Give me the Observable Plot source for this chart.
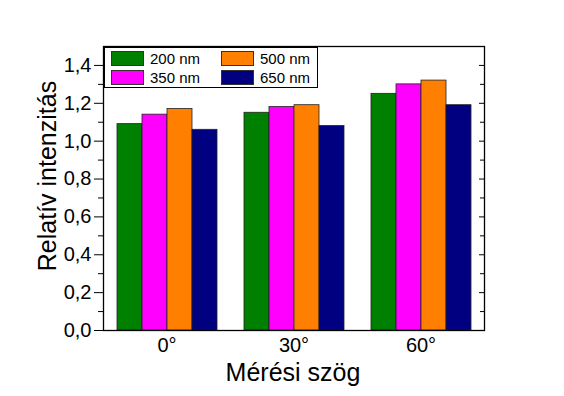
<!DOCTYPE html>
<html><head><meta charset="utf-8">
<script src="https://cdn.jsdelivr.net/npm/d3@7"></script>
<script src="https://cdn.jsdelivr.net/npm/@observablehq/plot@0.6"></script>
<style>
body{margin:0;background:#fff;}
#wrap{position:relative;width:564px;height:396px;font-family:"Liberation Sans",Arial,sans-serif;color:#000;}
#legend{position:absolute;left:104px;top:47px;width:214px;height:41px;border:1px solid #000;background:#fff;box-sizing:border-box;}
.item{position:absolute;display:flex;align-items:center;font-size:15px;line-height:15px;}
.sw{width:33px;height:15px;border:1px solid #333;box-sizing:border-box;margin-right:6px;}
.title{position:absolute;font-size:25px;line-height:25px;white-space:nowrap;}
#xt{left:293px;top:360px;transform:translateX(-50%);}
#yt{left:47px;top:176px;transform:translate(-50%,-50%) rotate(-90deg);}
</style></head>
<body><div id="wrap"></div>
<script>
const angles = ["0°", "30°", "60°"];
const wavelengths = ["200 nm", "350 nm", "500 nm", "650 nm"];
const v200 = [1.09, 1.15, 1.25];
const v350 = [1.14, 1.18, 1.30];
const v500 = [1.17, 1.19, 1.32];
const v650 = [1.06, 1.08, 1.19];
const colors = ["#008000", "#ff00ff", "#ff8000", "#000080"];
const majorTicks = [0, 0.2, 0.4, 0.6, 0.8, 1.0, 1.2, 1.4];
const minorTicks = [0.1, 0.3, 0.5, 0.7, 0.9, 1.1, 1.3];
const xTitle = "Mérési szög";
const yTitle = "Relatív intenzitás";

const series = [v200, v350, v500, v650];
const data = angles.flatMap((a, i) => wavelengths.map((w, j) => ({angle: a, wl: w, value: series[j][i]})));
const fmt = d => d.toFixed(1).replace(".", ",");

const chart = Plot.plot({
  width: 564, height: 396,
  marginLeft: 102, marginRight: 79, marginTop: 46, marginBottom: 66,
  style: {fontFamily: "'Liberation Sans', Arial, sans-serif", color: "#000", background: "#fff"},
  fx: {domain: angles, paddingInner: 0, paddingOuter: 0, label: null},
  x: {domain: wavelengths, paddingInner: 0, paddingOuter: 0.5, axis: null},
  y: {domain: [0, 1.5]},
  color: {domain: wavelengths, range: colors},
  marks: [
    Plot.barY(data, {fx: "angle", x: "wl", y: "value", fill: "wl", stroke: "#222", strokeWidth: 0.8}),
    Plot.axisY({ticks: majorTicks, tickFormat: fmt, tickSize: 9, tickPadding: 3, fontSize: 20, label: null}),
    Plot.axisY({ticks: minorTicks, tickSize: 5, text: null, label: null}),
    Plot.axisY({anchor: "right", ticks: majorTicks, tickSize: -6, text: null, label: null}),
    Plot.axisY({anchor: "right", ticks: minorTicks, tickSize: -5, text: null, label: null}),
    Plot.axisFx({anchor: "bottom", tickSize: 0, tickPadding: 7, fontSize: 20, label: null}),
    Plot.frame({facet: "super", stroke: "#000", strokeWidth: 1.3})
  ]
});
const wrap = document.getElementById("wrap");
wrap.appendChild(chart);

const xt = document.createElement("div");
xt.id = "xt"; xt.className = "title"; xt.textContent = xTitle;
wrap.appendChild(xt);
const yt = document.createElement("div");
yt.id = "yt"; yt.className = "title"; yt.textContent = yTitle;
wrap.appendChild(yt);

const legend = document.createElement("div");
legend.id = "legend";
wavelengths.forEach((w, i) => {
  const item = document.createElement("div");
  item.className = "item";
  item.style.left = (6 + Math.floor(i / 2) * 110) + "px";
  item.style.top = (3 + (i % 2) * 19) + "px";
  const sw = document.createElement("div");
  sw.className = "sw";
  sw.style.background = colors[i];
  const label = document.createElement("span");
  label.textContent = w;
  item.appendChild(sw);
  item.appendChild(label);
  legend.appendChild(item);
});
wrap.appendChild(legend);
</script>
</body></html>
